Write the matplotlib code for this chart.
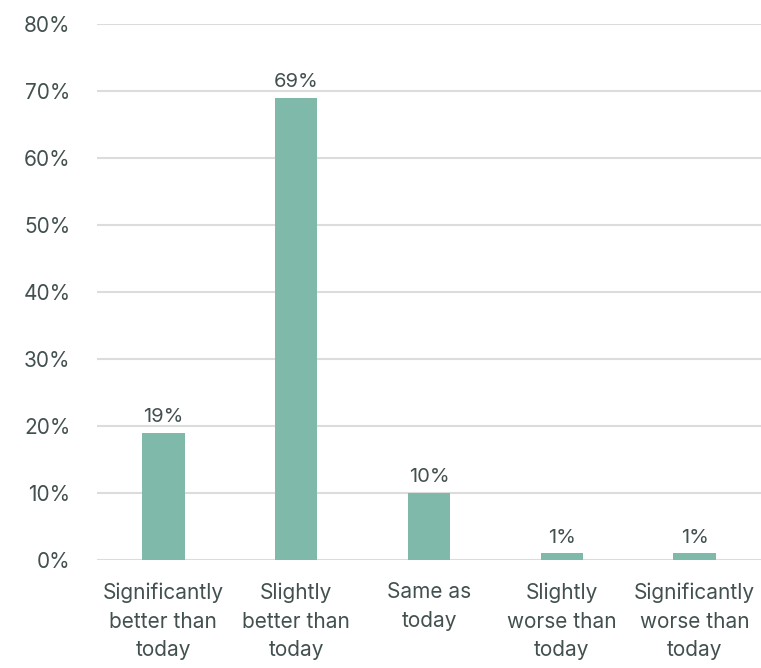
import matplotlib
matplotlib.use("Agg")
import matplotlib.pyplot as plt
from matplotlib.ticker import FuncFormatter

categories = [
    "Significantly\nbetter than\ntoday",
    "Slightly\nbetter than\ntoday",
    "Same as\ntoday",
    "Slightly\nworse than\ntoday",
    "Significantly\nworse than\ntoday",
]
values = [19, 69, 10, 1, 1]
y_ticks = [0, 10, 20, 30, 40, 50, 60, 70, 80]

text_color = "#435050"
bar_color = "#7fb9a9"
grid_color = "#dcdcdc"

plt.rcParams["font.family"] = ["Inter", "DejaVu Sans"]

fig = plt.figure(figsize=(7.61, 6.68), dpi=100)
ax = fig.add_axes([0.1275, 0.1617, 0.8725, 0.8023])

x = range(len(categories))
bars = ax.bar(x, values, width=0.32, color=bar_color, zorder=2)

for xi, v in zip(x, values):
    ax.text(xi, v + 1.0, f"{v}%", ha="center", va="bottom",
            fontsize=14.5, color=text_color)

ax.set_xlim(-0.5, 4.5)
ax.set_ylim(0, 80)
ax.set_yticks(y_ticks)
ax.yaxis.set_major_formatter(FuncFormatter(lambda v, p: f"{v:.0f}%"))
ax.set_xticks(list(x))
ax.set_xticklabels(categories, fontsize=15, color=text_color, linespacing=1.55)

ax.tick_params(axis="y", length=0, pad=19, labelsize=15, labelcolor=text_color)
ax.tick_params(axis="x", length=0, pad=16)

ax.grid(axis="y", color=grid_color, linewidth=1.5, zorder=0)
for s in ax.spines.values():
    s.set_visible(False)

fig.savefig("out.png", dpi=100)
